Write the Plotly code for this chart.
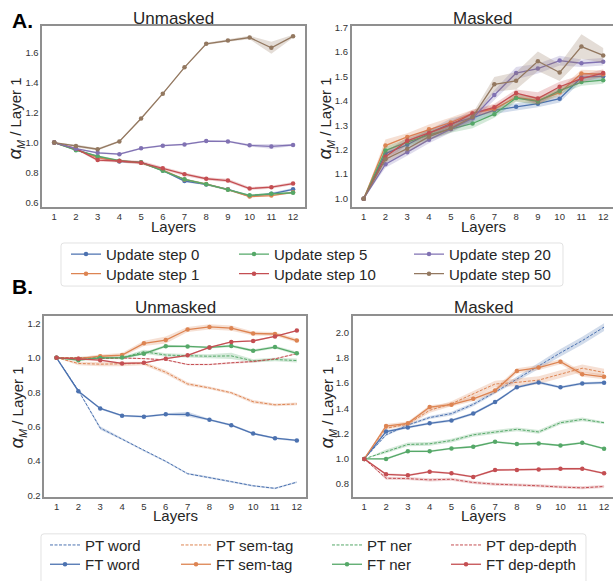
import plotly.graph_objects as go

W, H = 613, 581
layers = list(range(1, 13))

# ---------------- Panel A data ----------------
steps = ["Update step 0", "Update step 1", "Update step 5", "Update step 10", "Update step 20", "Update step 50"]
a_unmasked = {
    "Update step 0": [1.0, 0.955, 0.905, 0.875, 0.868, 0.815, 0.745, 0.722, 0.690, 0.645, 0.660, 0.690],
    "Update step 1": [1.0, 0.955, 0.900, 0.878, 0.866, 0.818, 0.755, 0.725, 0.688, 0.642, 0.648, 0.670],
    "Update step 5": [1.0, 0.950, 0.910, 0.880, 0.869, 0.813, 0.756, 0.724, 0.687, 0.650, 0.660, 0.667],
    "Update step 10": [1.0, 0.960, 0.884, 0.878, 0.867, 0.830, 0.790, 0.760, 0.748, 0.695, 0.704, 0.728],
    "Update step 20": [1.0, 0.960, 0.932, 0.923, 0.962, 0.980, 0.988, 1.010, 1.008, 0.982, 0.975, 0.984],
    "Update step 50": [1.0, 0.978, 0.956, 1.008, 1.160, 1.325, 1.500, 1.656, 1.678, 1.698, 1.630, 1.706],
}
a_unmasked_ci = {
    "Update step 0": [0, .005, .008, .008, .006, .006, .008, .006, .006, .008, .008, .008],
    "Update step 1": [0, .005, .006, .006, .006, .006, .006, .006, .006, .006, .006, .006],
    "Update step 5": [0, .005, .006, .006, .006, .006, .006, .006, .006, .006, .006, .006],
    "Update step 10": [0, .008, .010, .010, .012, .010, .012, .010, .012, .010, .010, .010],
    "Update step 20": [0, .005, .006, .006, .006, .006, .006, .006, .006, .008, .015, .006],
    "Update step 50": [0, .010, .008, .006, .006, .006, .006, .008, .008, .012, .040, .010],
}
a_masked = {
    "Update step 0": [1.0, 1.184, 1.220, 1.267, 1.307, 1.330, 1.361, 1.375, 1.388, 1.408, 1.495, 1.500],
    "Update step 1": [1.0, 1.217, 1.252, 1.283, 1.311, 1.348, 1.367, 1.413, 1.401, 1.433, 1.511, 1.508],
    "Update step 5": [1.0, 1.197, 1.231, 1.260, 1.284, 1.307, 1.345, 1.411, 1.397, 1.441, 1.476, 1.484],
    "Update step 10": [1.0, 1.171, 1.236, 1.267, 1.301, 1.348, 1.373, 1.431, 1.409, 1.457, 1.490, 1.513],
    "Update step 20": [1.0, 1.141, 1.190, 1.241, 1.284, 1.328, 1.423, 1.513, 1.531, 1.564, 1.553, 1.559],
    "Update step 50": [1.0, 1.161, 1.204, 1.253, 1.287, 1.333, 1.467, 1.481, 1.561, 1.515, 1.621, 1.585],
}
a_masked_ci = {
    "Update step 0": [0, .015, .015, .015, .020, .020, .015, .015, .015, .015, .015, .015],
    "Update step 1": [0, .025, .015, .020, .020, .015, .015, .015, .015, .015, .015, .015],
    "Update step 5": [0, .015, .015, .020, .015, .020, .015, .015, .015, .015, .015, .015],
    "Update step 10": [0, .020, .015, .015, .015, .015, .015, .015, .025, .020, .015, .015],
    "Update step 20": [0, .015, .015, .015, .015, .015, .020, .025, .020, .020, .015, .015],
    "Update step 50": [0, .015, .015, .015, .015, .015, .030, .035, .040, .035, .050, .030],
}
step_colors = {
    "Update step 0": "#4C72B0", "Update step 1": "#DD8452", "Update step 5": "#55A868",
    "Update step 10": "#C44E52", "Update step 20": "#8172B3", "Update step 50": "#937860",
}
step_legend = {
    "Update step 0": ("legend", 123), "Update step 5": ("legend", 130), "Update step 20": ("legend", 110),
    "Update step 1": ("legend2", 123), "Update step 10": ("legend2", 130), "Update step 50": ("legend2", 110),
}

# ---------------- Panel B data ----------------
tasks = ["word", "sem-tag", "ner", "dep-depth"]
task_colors = {"word": "#4C72B0", "sem-tag": "#DD8452", "ner": "#55A868", "dep-depth": "#C44E52"}
task_legwidth = {"word": 86, "sem-tag": 106, "ner": 74, "dep-depth": 100}
b_unmasked = {
    "PT word": [1.0, 0.810, 0.592, 0.528, 0.461, 0.399, 0.327, 0.306, 0.281, 0.257, 0.242, 0.278],
    "FT word": [1.0, 0.806, 0.706, 0.664, 0.658, 0.672, 0.672, 0.640, 0.609, 0.560, 0.533, 0.520],
    "PT sem-tag": [1.0, 0.967, 0.963, 0.963, 0.967, 0.916, 0.848, 0.825, 0.797, 0.745, 0.727, 0.732],
    "FT sem-tag": [1.0, 0.995, 1.009, 1.016, 1.084, 1.103, 1.164, 1.179, 1.172, 1.141, 1.138, 1.100],
    "PT ner": [1.0, 1.000, 1.000, 1.000, 1.035, 1.016, 1.012, 1.009, 1.011, 0.982, 0.990, 0.984],
    "FT ner": [1.0, 0.986, 0.999, 1.001, 1.024, 1.067, 1.066, 1.060, 1.069, 1.041, 1.062, 1.026],
    "PT dep-depth": [1.0, 1.000, 0.995, 0.999, 0.995, 0.988, 0.961, 0.961, 0.971, 0.978, 0.994, 1.024],
    "FT dep-depth": [1.0, 0.995, 0.986, 0.967, 0.971, 0.995, 1.014, 1.060, 1.092, 1.098, 1.124, 1.158],
}
b_unmasked_ci = {
    "PT word": [0, .005, .010, .005, .005, .005, .005, .005, .005, .005, .005, .005],
    "FT word": [0, .006, .006, .006, .006, .006, .015, .006, .006, .006, .006, .006],
    "PT sem-tag": [0, .010, .012, .012, .010, .012, .010, .008, .008, .010, .008, .008],
    "FT sem-tag": [0, .008, .010, .012, .015, .020, .015, .015, .015, .012, .012, .012],
    "PT ner": [0, .006, .006, .008, .012, .010, .010, .012, .018, .010, .010, .012],
    "FT ner": [0, .006, .006, .006, .008, .008, .006, .006, .008, .008, .008, .010],
    "PT dep-depth": [0, .004, .004, .004, .004, .004, .004, .004, .005, .006, .004, .004],
    "FT dep-depth": [0, .004, .004, .004, .004, .004, .004, .004, .004, .004, .004, .004],
}
b_masked = {
    "PT word": [1.0, 1.190, 1.268, 1.327, 1.358, 1.431, 1.527, 1.631, 1.735, 1.839, 1.935, 2.042],
    "FT word": [1.0, 1.216, 1.249, 1.281, 1.304, 1.358, 1.449, 1.566, 1.605, 1.566, 1.597, 1.603],
    "PT sem-tag": [1.0, 1.242, 1.275, 1.384, 1.436, 1.514, 1.592, 1.605, 1.623, 1.670, 1.717, 1.683],
    "FT sem-tag": [1.0, 1.260, 1.281, 1.410, 1.429, 1.475, 1.540, 1.696, 1.722, 1.769, 1.670, 1.649],
    "PT ner": [1.0, 1.060, 1.114, 1.119, 1.145, 1.190, 1.213, 1.234, 1.213, 1.286, 1.312, 1.286],
    "FT ner": [1.0, 1.000, 1.060, 1.060, 1.083, 1.096, 1.135, 1.117, 1.122, 1.106, 1.127, 1.081],
    "PT dep-depth": [1.0, 0.847, 0.844, 0.834, 0.839, 0.813, 0.800, 0.795, 0.787, 0.777, 0.771, 0.782],
    "FT dep-depth": [1.0, 0.878, 0.870, 0.899, 0.886, 0.857, 0.912, 0.912, 0.917, 0.922, 0.922, 0.886],
}
b_masked_ci = {
    "PT word": [0, .010, .010, .012, .015, .015, .015, .020, .025, .030, .030, .030],
    "FT word": [0, .010, .010, .010, .010, .010, .010, .010, .010, .010, .010, .010],
    "PT sem-tag": [0, .010, .015, .020, .020, .025, .025, .030, .030, .030, .030, .030],
    "FT sem-tag": [0, .015, .015, .015, .015, .020, .020, .020, .020, .020, .020, .020],
    "PT ner": [0, .015, .015, .015, .015, .015, .015, .015, .015, .015, .015, .010],
    "FT ner": [0, .008, .008, .008, .008, .008, .008, .008, .008, .008, .008, .008],
    "PT dep-depth": [0, .012, .012, .012, .012, .012, .012, .012, .012, .012, .012, .012],
    "FT dep-depth": [0, .008, .008, .008, .008, .008, .008, .008, .008, .008, .008, .008],
}

FONT = "Liberation Sans, Arial, sans-serif"


def rgba(hexc, a):
    h = hexc.lstrip("#")
    return "rgba(%d,%d,%d,%.2f)" % (int(h[0:2], 16), int(h[2:4], 16), int(h[4:6], 16), a)


fig = go.Figure()


def add_series(xa, ya, y, ci, color, name, dashed, showlegend, legend=None, legwidth=None):
    upper = [v + c for v, c in zip(y, ci)]
    lower = [v - c for v, c in zip(y, ci)]
    fig.add_trace(go.Scatter(
        x=layers + layers[::-1], y=upper + lower[::-1], fill="toself",
        fillcolor=rgba(color, 0.25), line=dict(width=0), mode="lines",
        hoverinfo="skip", showlegend=False, xaxis=xa, yaxis=ya))
    kw = dict(x=layers, y=y, name=name, xaxis=xa, yaxis=ya, showlegend=showlegend)
    if dashed:
        kw.update(mode="lines", line=dict(color=color, width=1, dash="3px,1.5px"))
    else:
        kw.update(mode="lines+markers", line=dict(color=color, width=1.3),
                  marker=dict(color=color, size=4.5))
    if showlegend:
        kw.update(legend=legend, legendwidth=legwidth)
    fig.add_trace(go.Scatter(**kw))


for s in steps:
    lg, lw = step_legend[s]
    add_series("x", "y", a_unmasked[s], a_unmasked_ci[s], step_colors[s], s, False, True, lg, lw)
for s in steps:
    add_series("x2", "y2", a_masked[s], a_masked_ci[s], step_colors[s], s, False, False)

for kind in ["PT", "FT"]:
    for t in tasks:
        name = kind + " " + t
        add_series("x3", "y3", b_unmasked[name], b_unmasked_ci[name], task_colors[t], name,
                   kind == "PT", True, "legend3" if kind == "PT" else "legend4", task_legwidth[t])
for kind in ["PT", "FT"]:
    for t in tasks:
        name = kind + " " + t
        add_series("x4", "y4", b_masked[name], b_masked_ci[name], task_colors[t], name,
                   kind == "PT", False)

FRAME = "#8f8f8f"
TICKFONT = dict(family=FONT, size=9.5, color="#333333")


def px_x(p):
    return p / W


def px_y(p):
    return 1 - p / H


def xaxis(dom, rng, anchor):
    return dict(domain=dom, range=rng, tickmode="array", tickvals=layers,
                ticktext=[str(v) for v in layers], showgrid=False, zeroline=False,
                showline=True, linecolor=FRAME, linewidth=1.5, mirror=True,
                ticks="", tickfont=TICKFONT, anchor=anchor)


def yaxis(dom, rng, dtick, tick0, anchor, mirror=True):
    return dict(domain=dom, range=rng, dtick=dtick, tick0=tick0, tickformat=".1f",
                showgrid=False, zeroline=False, showline=True, linecolor=FRAME,
                linewidth=1.5, mirror=mirror, ticks="", tickfont=TICKFONT, anchor=anchor)


A_dom_y = [px_y(206), px_y(21.7)]
B_dom_y = [px_y(502.7), px_y(317.3)]

fig.update_layout(
    width=W, height=H, margin=dict(l=0, r=0, t=0, b=0),
    paper_bgcolor="white", plot_bgcolor="white",
    font=dict(family=FONT, color="#262626"),
    xaxis=xaxis([px_x(42.3), px_x(305)], [0.45, 12.55], "y"),
    yaxis=yaxis(A_dom_y, [0.574, 1.773], 0.2, 0.6, "x"),
    xaxis2=xaxis([px_x(351.7), 1.0], [0.45, 12.45], "y2"),
    yaxis2=yaxis(A_dom_y, [0.967, 1.704], 0.1, 1.0, "x2", mirror=False),
    xaxis3=xaxis([px_x(44.3), px_x(306)], [0.44, 12.42], "y3"),
    yaxis3=yaxis(B_dom_y, [0.19, 1.244], 0.2, 0.2, "x3"),
    xaxis4=xaxis([px_x(352.7), 1.0], [0.47, 12.41], "y4"),
    yaxis4=yaxis(B_dom_y, [0.696, 2.132], 0.2, 0.8, "x4", mirror=False),
)

LEGFONT = dict(family=FONT, size=15, color="#262626")


def legend_at(x_px, yc_px):
    return dict(orientation="h", x=px_x(x_px), y=px_y(yc_px - 16.25), xanchor="left", yanchor="top",
                bgcolor="rgba(0,0,0,0)", borderwidth=0, font=LEGFONT, traceorder="normal",
                itemclick=False, itemdoubleclick=False)


fig.update_layout(
    legend=legend_at(66, 254),
    legend2=legend_at(66, 274),
    legend3=legend_at(45, 551),
    legend4=legend_at(45, 571),
)


def rounded_box(x0, y0, x1, y1, r=3):
    # pixel coords -> paper path with small rounded corners
    X = lambda p: "%.5f" % px_x(p)
    Y = lambda p: "%.5f" % px_y(p)
    return ("M %s,%s L %s,%s Q %s,%s %s,%s L %s,%s Q %s,%s %s,%s L %s,%s Q %s,%s %s,%s L %s,%s Q %s,%s %s,%s Z" % (
        X(x0 + r), Y(y0), X(x1 - r), Y(y0), X(x1), Y(y0), X(x1), Y(y0 + r),
        X(x1), Y(y1 - r), X(x1), Y(y1), X(x1 - r), Y(y1),
        X(x0 + r), Y(y1), X(x0), Y(y1), X(x0), Y(y1 - r),
        X(x0), Y(y0 + r), X(x0), Y(y0), X(x0 + r), Y(y0)))


fig.add_shape(type="path", xref="paper", yref="paper", path=rounded_box(61, 243, 563, 287),
              line=dict(color="#e2e2e2", width=1), fillcolor="rgba(0,0,0,0)", layer="below")
fig.add_shape(type="path", xref="paper", yref="paper", path=rounded_box(41, 540, 586, 592),
              line=dict(color="#e2e2e2", width=1), fillcolor="rgba(0,0,0,0)", layer="below")

ylabel = "<span style=\"font-size:19px\"><i>α</i></span><sub><i>M</i></sub> / Layer 1"
annots = [
    dict(text="<b>A.</b>", x=px_x(10), y=px_y(15.5), xanchor="left", yanchor="middle", size=21, color="black"),
    dict(text="<b>B.</b>", x=px_x(10), y=px_y(287.5), xanchor="left", yanchor="middle", size=21, color="black"),
    dict(text="Unmasked", x=px_x(173.6), y=px_y(14), xanchor="center", yanchor="middle", size=17),
    dict(text="Masked", x=px_x(483), y=px_y(14), xanchor="center", yanchor="middle", size=17),
    dict(text="Unmasked", x=px_x(175), y=px_y(309), xanchor="center", yanchor="middle", size=17),
    dict(text="Masked", x=px_x(483.5), y=px_y(309), xanchor="center", yanchor="middle", size=17),
    dict(text="Layers", x=px_x(173.6), y=px_y(226), xanchor="center", yanchor="middle", size=15),
    dict(text="Layers", x=px_x(483.5), y=px_y(226), xanchor="center", yanchor="middle", size=15),
    dict(text="Layers", x=px_x(175), y=px_y(521.5), xanchor="center", yanchor="middle", size=15),
    dict(text="Layers", x=px_x(483.5), y=px_y(521.5), xanchor="center", yanchor="middle", size=15),
    dict(text=ylabel, x=px_x(15), y=px_y(116), xanchor="center", yanchor="middle", size=15, angle=-90),
    dict(text=ylabel, x=px_x(325), y=px_y(116), xanchor="center", yanchor="middle", size=15, angle=-90),
    dict(text=ylabel, x=px_x(17), y=px_y(411), xanchor="center", yanchor="middle", size=15, angle=-90),
    dict(text=ylabel, x=px_x(327), y=px_y(411), xanchor="center", yanchor="middle", size=15, angle=-90),
]
for a in annots:
    fig.add_annotation(text=a["text"], x=a["x"], y=a["y"], xref="paper", yref="paper",
                       xanchor=a["xanchor"], yanchor=a["yanchor"], showarrow=False,
                       textangle=a.get("angle", 0),
                       font=dict(family=FONT, size=a["size"], color=a.get("color", "#262626")))

fig.write_html("out.html")
